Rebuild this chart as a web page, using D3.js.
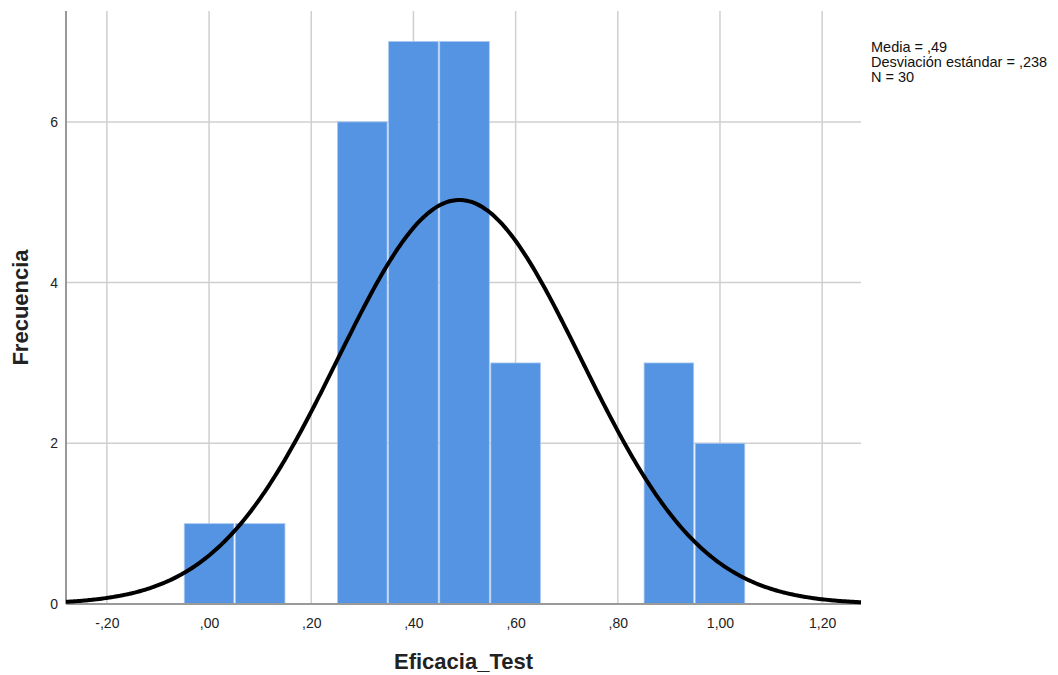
<!DOCTYPE html>
<html><head><meta charset="utf-8">
<script src="https://cdn.jsdelivr.net/npm/d3@7"></script>
<style>body{margin:0;background:#fff;}svg{display:block;font-family:"Liberation Sans",Arial,sans-serif;}</style>
</head><body>
<svg id="c" width="1058" height="675"></svg>
<script>
const binStarts = [-0.05, 0.05, 0.25, 0.35, 0.45, 0.55, 0.85, 0.95];
const binCounts = [1, 1, 6, 7, 7, 3, 3, 2];
const binWidth = 0.1;
const xTicks = [-0.2, 0, 0.2, 0.4, 0.6, 0.8, 1.0, 1.2];
const yTicks = [0, 2, 4, 6];
const mean = 0.49, sd = 0.238, N = 30;
const legendLines = ["Media = ,49", "Desviación estándar = ,238", "N = 30"];

const svg = d3.select("#c");
const L = 66, R = 861, T = 11, B = 604;
const x = d3.scaleLinear().domain([-0.28, 1.276]).range([L, R]);
const y = d3.scaleLinear().domain([0, 7.38]).range([B, T]);
const fmt = v => { const s = Math.abs(v).toFixed(2).replace(".", ","); const t = s.startsWith("0,") ? s.slice(1) : s; return (v < 0 ? "-" : "") + t; };

// grid
svg.append("g").selectAll("line").data(xTicks).join("line")
  .attr("x1", d => x(d)).attr("x2", d => x(d)).attr("y1", T).attr("y2", B)
  .attr("stroke", "#cfcfcf").attr("stroke-width", 1.5);
svg.append("g").selectAll("line").data(yTicks.filter(d => d > 0)).join("line")
  .attr("x1", L).attr("x2", R).attr("y1", d => y(d)).attr("y2", d => y(d))
  .attr("stroke", "#cfcfcf").attr("stroke-width", 1.5);

// bars
svg.append("g").selectAll("rect").data(binStarts).join("rect")
  .attr("x", d => x(d) + 0.75).attr("width", d => x(d + binWidth) - x(d) - 1.5)
  .attr("y", (d, i) => y(binCounts[i])).attr("height", (d, i) => y(0) - y(binCounts[i]))
  .attr("fill", "#5594e3").attr("stroke", "#a9c8f0").attr("stroke-width", 0.8);

// axes
const xAxis = d3.axisBottom(x).tickValues(xTicks).tickFormat(fmt).tickSize(0).tickPadding(14);
const gx = svg.append("g").attr("transform", `translate(0,${B})`).call(xAxis);
gx.select(".domain").attr("stroke", "#999").attr("stroke-width", 2).attr("d", `M${L},0H${R}`);
gx.selectAll("text").attr("font-size", 14).attr("fill", "#222").attr("font-family", "Liberation Sans, Arial, sans-serif");

const yAxis = d3.axisLeft(y).tickValues(yTicks).tickFormat(d3.format("d")).tickSize(0).tickPadding(8);
const gy = svg.append("g").attr("transform", `translate(${L},0)`).call(yAxis);
gy.select(".domain").attr("stroke", "#999").attr("stroke-width", 2).attr("d", `M0,${T}V${B}`);
gy.selectAll("text").attr("font-size", 14).attr("fill", "#222").attr("font-family", "Liberation Sans, Arial, sans-serif");

// normal curve
const scale = N * binWidth / (sd * Math.sqrt(2 * Math.PI));
const pts = d3.range(0, 401).map(i => { const v = -0.28 + (1.276 + 0.28) * i / 400; return [v, scale * Math.exp(-0.5 * ((v - mean) / sd) ** 2)]; });
svg.append("path").datum(pts)
  .attr("d", d3.line().x(d => x(d[0])).y(d => y(d[1])).curve(d3.curveBasis))
  .attr("fill", "none").attr("stroke", "#000").attr("stroke-width", 4);

// titles
svg.append("text").attr("x", (L + R) / 2).attr("y", 669).attr("text-anchor", "middle")
  .attr("font-size", 22).attr("font-weight", "bold").attr("fill", "#222").text("Eficacia_Test");
svg.append("text").attr("transform", `translate(28,${(T + B) / 2}) rotate(-90)`).attr("text-anchor", "middle")
  .attr("font-size", 22).attr("font-weight", "bold").attr("fill", "#222").text("Frecuencia");

// legend
svg.append("g").selectAll("text").data(legendLines).join("text")
  .attr("x", 871).attr("y", (d, i) => 52 + i * 15).attr("font-size", 14.5).attr("fill", "#111").text(d => d);
</script>
</body></html>
